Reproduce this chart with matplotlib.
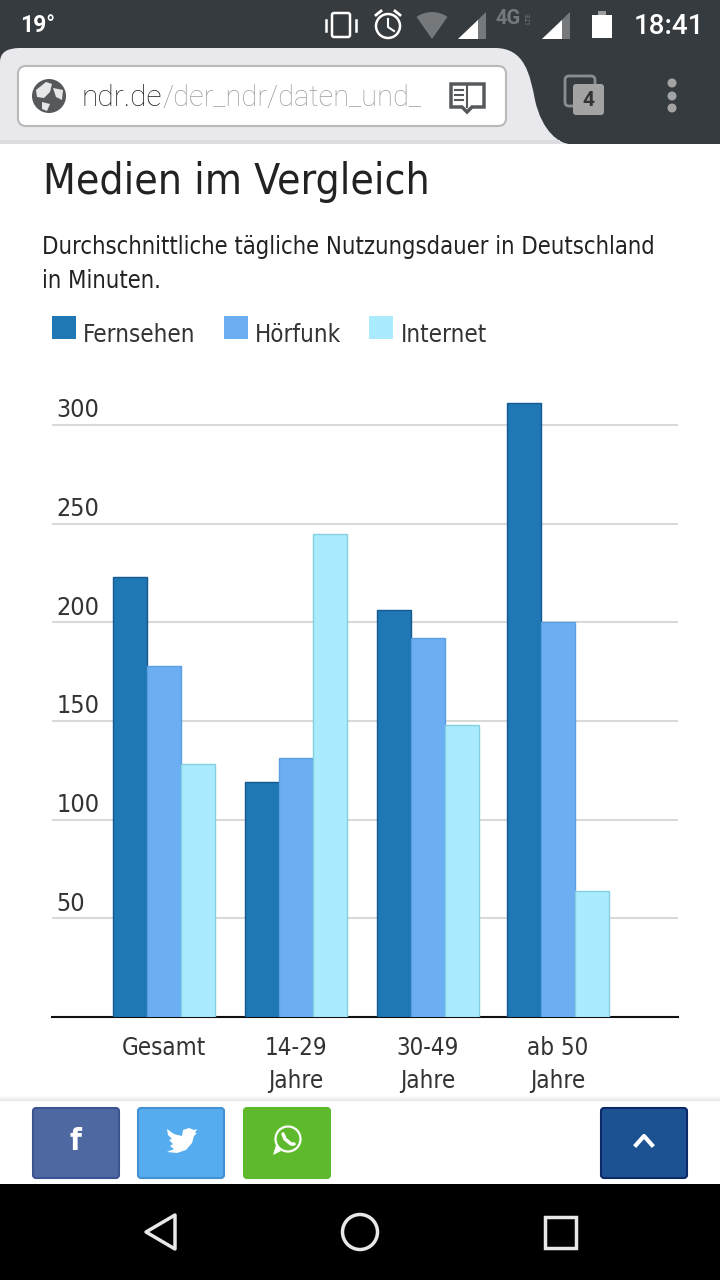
from matplotlib import pyplot as plt
from matplotlib.patches import Rectangle, FancyBboxPatch, Circle, Polygon, PathPatch, Wedge, Ellipse
from matplotlib.path import Path
from matplotlib.transforms import ScaledTranslation

# Values
groups = ['Gesamt', '14-29\nJahre', '30-49\nJahre', 'ab 50\nJahre']
fernsehen = [223, 119, 206, 311]
hoerfunk = [178, 131, 192, 200]
internet = [128, 245, 148, 64]
y_ticks = [50, 100, 150, 200, 250, 300]

# Layout in screen pixels
W, H = 720, 1280
group_centres = [164, 296, 428, 558]
bar_w = 34
text_col = '#333333'

plt.rcParams['font.family'] = ['DejaVu Sans']
plt.rcParams['font.stretch'] = 'condensed'
fig = plt.figure(figsize=(W / 100, H / 100), dpi=100, facecolor='white')

# Chart axes: baseline at y=1017, 300 at y=425, x from 52 to 678
top_px = 385
ax = fig.add_axes([52 / W, (H - 1017) / H, 626 / W, (1017 - top_px) / H])
ax.set_xlim(52, 678)
ax.set_ylim(0, (1017 - top_px) / (592 / 300))
ax.patch.set_alpha(0)

series = [('Fernsehen', fernsehen, '#1f78b4', '#14598f'),
          ('Hörfunk', hoerfunk, '#6caef2', '#5a9fe2'),
          ('Internet', internet, '#abebfe', '#84cfe0')]
for i, (name, vals, col, edge) in enumerate(series):
    xs = [c + (i - 1) * bar_w for c in group_centres]
    ax.bar(xs, vals, width=bar_w, color=col, edgecolor=edge, linewidth=1.0, label=name, zorder=3)

ax.set_yticks(y_ticks)
ax.set_xticks(group_centres)
ax.set_xticklabels(groups, fontsize=17.3, color=text_col, linespacing=1.45)
ax.tick_params(axis='x', length=0, pad=14)
ax.tick_params(axis='y', length=0, pad=-3, labelsize=18, labelcolor=text_col)
offset = ScaledTranslation(0, 2 / 72, fig.dpi_scale_trans)
for lab in ax.get_yticklabels():
    lab.set_ha('left')
    lab.set_va('bottom')
    lab.set_transform(lab.get_transform() + offset)
ax.grid(axis='y', color='#d9d9d9', linewidth=1.5, zorder=1)
ax.set_axisbelow(True)
for s in ['top', 'left', 'right']:
    ax.spines[s].set_visible(False)
ax.spines['bottom'].set_color('#111111')
ax.spines['bottom'].set_linewidth(1.5)

handles, labels = ax.get_legend_handles_labels()
leg = fig.legend(handles, labels, loc='upper left', bbox_to_anchor=(52 / W, 1 - 316 / H), ncol=3, frameon=False,
                 fontsize=17.3, labelcolor=text_col, borderpad=0, borderaxespad=0, handlelength=1.0,
                 handleheight=1.1, handletextpad=0.3, columnspacing=1.17)
for h in leg.legend_handles:
    h.set_linewidth(0)
for t in leg.get_texts():
    t.set_position((0, -6))

# Overlay in pixel coordinates for the page text and the phone screen around the chart
ov = fig.add_axes([0, 0, 1, 1], zorder=5)
ov.set_xlim(0, W)
ov.set_ylim(H, 0)
ov.axis('off')

ov.text(43, 182, 'Medien im Vergleich', fontsize=30.5, color='#222222', va='center')
ov.text(42, 247, 'Durchschnittliche tägliche Nutzungsdauer in Deutschland', fontsize=17.1, color='#222222', va='center')
ov.text(42, 281, 'in Minuten.', fontsize=17.1, color='#222222', va='center')

# status bar and tab strip
dark = '#363b3f'
ov.add_patch(Rectangle((0, 0), W, 144, color=dark, lw=0))
tab = Path([(0, 144), (0, 62), (0, 48), (20, 48), (495, 48), (525, 48), (530, 75), (535, 100), (542, 132), (560, 144), (570, 144), (0, 144)],
           [Path.MOVETO, Path.LINETO, Path.CURVE3, Path.CURVE3, Path.LINETO, Path.CURVE4, Path.CURVE4, Path.CURVE4,
            Path.CURVE4, Path.CURVE4, Path.CURVE4, Path.CLOSEPOLY])
ov.add_patch(PathPatch(tab, facecolor='#e9e9ed', lw=0))
ov.add_patch(Rectangle((0, 140), 560, 4, color='#dcdce0', lw=0))
ov.add_patch(FancyBboxPatch((22, 70), 480, 52, boxstyle='round,pad=4,rounding_size=8', facecolor='white',
                            edgecolor='#b9b9b9', lw=1.5))

ov.text(82, 98, 'ndr.de', fontsize=21.5, family='Roboto', weight='light', stretch='normal', color='#222222', va='center')
ov.text(162, 98, '/der_ndr/daten_und_', fontsize=21, family='Roboto', weight='light', stretch='normal', color='#a0a0a0', va='center')
ov.add_patch(Rectangle((375, 70), 55, 52, color='white', alpha=0.35, lw=0))
ov.add_patch(Rectangle((403, 70), 27, 52, color='white', alpha=0.6, lw=0))

ov.add_patch(Circle((49, 96), 17, color='#55595c', lw=0))
ov.add_patch(Polygon([(36, 90), (46, 82), (52, 84), (50, 92), (44, 98), (37, 97)], color='#e6e6e6', lw=0))
ov.add_patch(Polygon([(53, 88), (63, 90), (62, 100), (56, 97)], color='#e6e6e6', lw=0))
ov.add_patch(Polygon([(42, 102), (50, 104), (47, 111), (42, 109)], color='#e6e6e6', lw=0))

# reader icon
ov.add_patch(Polygon([(451, 84), (484, 84), (484, 107), (472, 107), (467, 112), (462, 107), (451, 107)],
                     facecolor='white', edgecolor='#55595c', lw=2.5))
ov.plot([467, 467], [86, 107], color='#55595c', lw=1.5)
for y in [90, 95, 100]:
    ov.plot([455, 463], [y, y], color='#55595c', lw=1.5)

ov.text(20, 26, '19°', fontsize=16.5, family='Roboto', weight='bold', stretch='normal', color='white', va='center')
ov.text(634, 27, '18:41', fontsize=20, family='Roboto', weight='medium', stretch='normal', color='white', va='center')
ov.text(496, 18, '4G', fontsize=14.5, family='Roboto', weight='bold', stretch='normal', color='#75797c', va='center')
ov.text(529, 18, 'LTE', fontsize=5, family='Roboto', stretch='normal', color='#75797c', rotation=90, ha='center', va='center')

ov.add_patch(FancyBboxPatch((333, 14), 16, 22, boxstyle='round,pad=1,rounding_size=2', fill=False, edgecolor='white', lw=1.8))
for x, a, b in [(326, 20, 31), (356, 20, 31)]:
    ov.plot([x, x], [a, b], color='white', lw=1.8)
ov.add_patch(Circle((388, 26), 12, fill=False, edgecolor='white', lw=1.8))
ov.plot([388, 388, 394], [19, 27, 31], color='white', lw=1.5)
ov.plot([376, 381], [15, 11], color='white', lw=2)
ov.plot([395, 400], [11, 15], color='white', lw=2)
ov.add_patch(Wedge((432, 39), 27, 235, 305, color='#75797c', lw=0))
for right in [486, 570]:
    ov.add_patch(Polygon([(right - 28, 39), (right, 39), (right, 12)], color='#75797c', lw=0))
    ov.add_patch(Polygon([(right - 28, 39), (right - 8, 39), (right - 8, 20)], color='white', lw=0))
ov.add_patch(Rectangle((592, 15), 20, 23, color='white', lw=0))
ov.add_patch(Rectangle((598, 11), 8, 4, color='#9a9c9e', lw=0))

# tab counter and menu dots
ov.add_patch(FancyBboxPatch((566, 77), 28, 28, boxstyle='round,pad=1,rounding_size=4', fill=False, edgecolor='#8b8d8f', lw=2))
ov.add_patch(FancyBboxPatch((574, 85), 29, 29, boxstyle='round,pad=1,rounding_size=3', facecolor='#a3a3a3', lw=0))
ov.text(588.5, 100, '4', fontsize=15, family='Roboto', weight='bold', stretch='normal', color='#333333', ha='center', va='center')
for y in [83, 96, 108]:
    ov.add_patch(Circle((672, y), 4.5, color='#a3a3a3', lw=0))

# share bar
for i, alpha in enumerate([0.02, 0.03, 0.05, 0.07, 0.09]):
    ov.add_patch(Rectangle((0, 1096 + i), W, 1, color='black', alpha=alpha, lw=0))
ov.add_patch(Rectangle((0, 1101), W, 83, color='white', lw=0))
ov.add_patch(Rectangle((0, 1184), W, 96, color='black', lw=0))
buttons = [(32, '#4e69a2', '#3b5491'), (137, '#55acee', '#4491d2'), (243, '#5fb92d', '#5fb92d'), (600, '#1d5292', '#0d2a68')]
for x, col, edge in buttons:
    ov.add_patch(FancyBboxPatch((x + 2, 1109), 84, 68, boxstyle='round,pad=1,rounding_size=3', facecolor=col, edgecolor=edge, lw=1.5))

ov.text(76, 1142, 'f', fontsize=22, weight='bold', color='white', ha='center', va='center')
bird = [(167, 1129), (174, 1134), (182, 1136), (183, 1130), (189, 1128), (194, 1130), (197, 1129), (195, 1133), (197, 1133),
        (194, 1136), (192, 1143), (186, 1150), (177, 1153), (167, 1152), (174, 1149), (170, 1146), (173, 1144), (169, 1140), (172, 1139), (168, 1135)]
ov.add_patch(Polygon(bird, color='white', lw=0))
ov.add_patch(Circle((288, 1139), 12.5, fill=False, edgecolor='white', lw=1.6))
ov.add_patch(Polygon([(273, 1155), (276, 1145), (281, 1151)], color='white', lw=0))
ov.plot([283, 285, 291, 294], [1134, 1139, 1144, 1144], color='white', lw=2.5, solid_capstyle='round')
ov.plot([636, 644, 652], [1145, 1136, 1145], color='white', lw=3)

# navigation bar
nav = '#e8e8e8'
ov.add_patch(Polygon([(146, 1232), (175, 1215), (175, 1249)], fill=False, edgecolor=nav, lw=2.5, joinstyle='round'))
ov.add_patch(Ellipse((360, 1232), 35, 35, fill=False, edgecolor=nav, lw=2.5))
ov.add_patch(Rectangle((545, 1217), 31, 31, fill=False, edgecolor=nav, lw=2.5))

plt.savefig('out.png', dpi=100)
